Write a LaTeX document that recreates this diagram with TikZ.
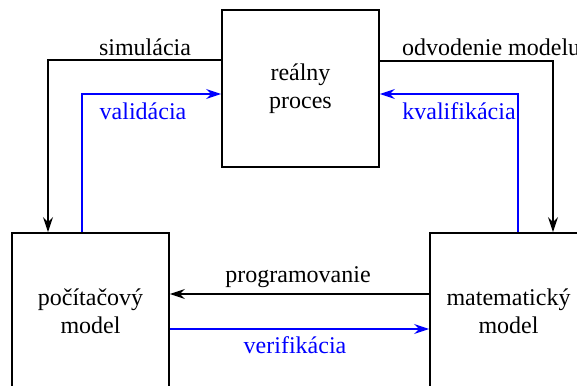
\documentclass[tikz,border=0pt]{standalone}
\usepackage{fontspec}
\setmainfont{Liberation Serif}
\usetikzlibrary{arrows.meta}
\definecolor{linkblue}{RGB}{0,0,255}
\tikzset{
  box/.style={draw, line width=1.8pt, minimum width=157pt, minimum height=157pt,
    align=center, inner sep=0pt, font=\fontsize{24}{28}\selectfont},
  lbl/.style={font=\fontsize{24}{28}\selectfont, inner sep=0pt},
  arr/.style={line width=1.8pt, -{Stealth[length=15pt, width=10pt, inset=5pt]}},
  arrb/.style={arr, linkblue},
}
\begin{document}
\begin{tikzpicture}[x=1pt, y=-1pt]
  \useasboundingbox (0,0) rectangle (577,385);
  \fill[white] (0,0) rectangle (577,385);
  \clip (0,0) rectangle (577,385);

  % the three models
  \node[box] (rp) at (300.5,88.5) {reálny\\proces};
  \node[box] (pm) at (90.5,311.5) {počítačový\\model};
  \node[box] (mm) at (508.5,311.5) {matematický\\model};

  % black: deriving, simulating, programming
  \draw[arr] (rp.west |- 0,60) -| (pm.north -| 48,0);
  \draw[arr] (rp.east |- 0,61) -| (mm.north -| 553,0);
  \draw[arr] (mm.west |- 0,294) -- (pm.east |- 0,294);

  % blue: checking the models
  \draw[arrb] (pm.north -| 82,0) |- (rp.west |- 0,94);
  \draw[arrb] (mm.north -| 518,0) |- (rp.east |- 0,94);
  \draw[arrb] (pm.east |- 0,329) -- (mm.west |- 0,329);

  % labels
  \node[lbl] (l1) at (145,47) {simulácia};
  \node[lbl, anchor=west] (l2) at (402,47) {odvodenie modelu};
  \node[lbl] (l3) at (298,277) {programovanie};
  \node[lbl, text=linkblue] (l4) at (143,111) {validácia};
  \node[lbl, text=linkblue] (l5) at (459,111) {kvalifikácia};
  \node[lbl, text=linkblue] (l6) at (295,345) {verifikácia};
\end{tikzpicture}
\end{document}
